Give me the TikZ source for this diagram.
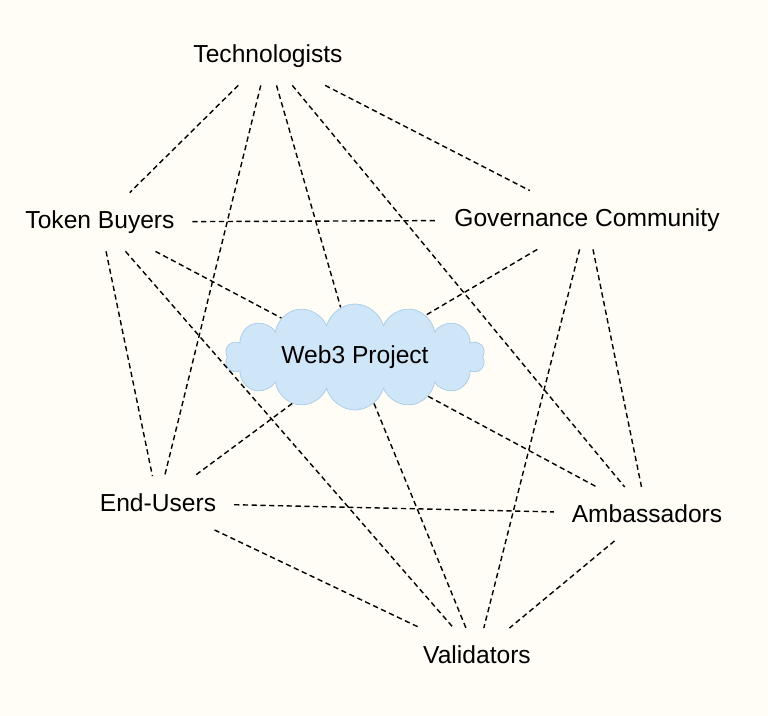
\documentclass[tikz,border=0pt]{standalone}
\usepackage{fontspec}
\setmainfont{Liberation Sans}
\usetikzlibrary{shapes.symbols}
\definecolor{bg}{HTML}{FFFDF5}
\definecolor{cloudfill}{HTML}{CFE6F8}
\definecolor{clouddraw}{HTML}{A8CBE8}
\begin{document}
\begin{tikzpicture}[x=0.02cm,y=-0.02cm,
  lbl/.style={font=\fontsize{14}{16}\selectfont, inner sep=10pt},
  link/.style={dashed, line width=0.8pt, dash pattern=on 3pt off 2pt}]
\fill[bg] (0,0) rectangle (768,716);
\useasboundingbox (0,0) rectangle (768,716);
\node[lbl] (tech) at (268,56) {Technologists};
\node[lbl] (tok) at (100,222) {Token Buyers};
\node[lbl] (gov) at (587,220) {Governance Community};
\node[cloud, cloud puffs=14, aspect=3.2, fill=cloudfill, draw=clouddraw, inner sep=3pt,
  minimum width=5.2cm, minimum height=1.35cm, font=\fontsize{14}{16}\selectfont] (web) at (355,357) {Web3 Project};
\node[lbl] (end) at (158,503) {End-Users};
\node[lbl] (amb) at (647,514) {Ambassadors};
\node[lbl] (val) at (477,655) {Validators};
\foreach \a/\b in {tech/tok,tech/gov,tech/end,tech/web,tech/amb,
  tok/gov,tok/end,tok/val,tok/web,
  gov/web,gov/amb,gov/val,
  web/end,web/amb,web/val,
  end/amb,end/val,amb/val}
  \draw[link] (\a) -- (\b);
\end{tikzpicture}
\end{document}
